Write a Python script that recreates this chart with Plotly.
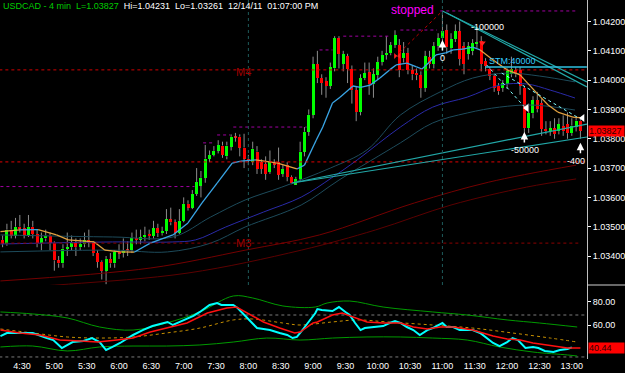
import plotly.graph_objects as go
import pandas as pd

DAY = "2011-12-14 "

# ---------------- candles (4-min bars) ----------------
opens = [1.03455,1.03440,1.03490,1.03470,1.03500,1.03495,1.03470,1.03500,1.03475,1.03445,
         1.03460,1.03470,1.03445,1.03385,1.03375,1.03425,1.03430,1.03445,1.03430,1.03440,
         1.03455,1.03445,1.03410,1.03380,1.03350,1.03390,1.03375,1.03415,1.03410,1.03420,
         1.03420,1.03460,1.03455,1.03465,1.03475,1.03468,1.03495,1.03478,1.03485,1.03525,
         1.03515,1.03480,1.03520,1.03578,1.03565,1.03612,1.03640,1.03667,1.03732,1.03745,
         1.03759,1.03777,1.03740,1.03773,1.03807,1.03807,1.03770,1.03730,1.03721,1.03756,
         1.03721,1.03714,1.03687,1.03717,1.03721,1.03680,1.03711,1.03670,1.03643,1.03663,
         1.03756,1.03824,1.03882,1.04055,1.04007,1.03997,1.03980,1.04040,1.04143,1.04055,
         1.04082,1.04038,1.03966,1.03891,1.04007,1.04027,1.03986,1.04017,1.04062,1.04086,
         1.04092,1.04120,1.04120,1.04075,1.04092,1.04034,1.04024,1.04017,1.03973,1.04079,
         1.04055,1.04116,1.04143,1.04170,1.04109,1.04140,1.04167,1.04116,1.04089,1.04099,
         1.04126,1.04133,1.04065,1.04038,1.04014,1.03980,1.03973,1.03986,1.04020,1.04034,
         1.04034,1.03973,1.03836,1.03887,1.03932,1.03922,1.03833,1.03826,1.03836,1.03826,
         1.03843,1.03850,1.03819,1.03840,1.03862]
highs = [1.03470,1.03510,1.03520,1.03530,1.03540,1.03510,1.03540,1.03520,1.03490,1.03480,
         1.03490,1.03480,1.03450,1.03400,1.03440,1.03480,1.03470,1.03460,1.03460,1.03480,
         1.03490,1.03450,1.03420,1.03385,1.03400,1.03410,1.03420,1.03440,1.03460,1.03450,
         1.03480,1.03490,1.03490,1.03500,1.03490,1.03520,1.03510,1.03500,1.03560,1.03565,
         1.03525,1.03560,1.03600,1.03590,1.03625,1.03700,1.03690,1.03779,1.03760,1.03775,
         1.03795,1.03790,1.03790,1.03815,1.03820,1.03815,1.03817,1.03745,1.03790,1.03775,
         1.03730,1.03740,1.03760,1.03730,1.03770,1.03710,1.03720,1.03675,1.03670,1.03790,
         1.03840,1.03900,1.04080,1.04100,1.04020,1.04010,1.04060,1.04150,1.04150,1.04100,
         1.04090,1.04050,1.03980,1.04020,1.04060,1.04060,1.04040,1.04080,1.04100,1.04150,
         1.04130,1.04170,1.04140,1.04130,1.04110,1.04050,1.04040,1.04030,1.04100,1.04100,
         1.04130,1.04160,1.04231,1.04190,1.04160,1.04190,1.04200,1.04130,1.04130,1.04140,
         1.04180,1.04150,1.04075,1.04045,1.04020,1.03990,1.04000,1.04040,1.04080,1.04045,
         1.04045,1.03980,1.03920,1.03945,1.03960,1.03935,1.03860,1.03860,1.03870,1.03870,
         1.03880,1.03890,1.03870,1.03875,1.03870]
lows = [1.03430,1.03435,1.03460,1.03460,1.03480,1.03460,1.03465,1.03460,1.03430,1.03420,
        1.03450,1.03420,1.03350,1.03360,1.03360,1.03400,1.03420,1.03400,1.03420,1.03430,
        1.03430,1.03400,1.03360,1.03320,1.03304,1.03360,1.03360,1.03390,1.03395,1.03400,
        1.03410,1.03440,1.03440,1.03450,1.03455,1.03460,1.03465,1.03470,1.03475,1.03505,
        1.03460,1.03475,1.03515,1.03555,1.03560,1.03605,1.03600,1.03650,1.03720,1.03740,
        1.03750,1.03735,1.03730,1.03760,1.03790,1.03740,1.03700,1.03710,1.03710,1.03680,
        1.03680,1.03660,1.03680,1.03700,1.03660,1.03670,1.03655,1.03645,1.03648,1.03655,
        1.03740,1.03810,1.03870,1.03990,1.03950,1.03940,1.03970,1.04030,1.04040,1.04030,
        1.03990,1.03920,1.03860,1.03880,1.04000,1.03950,1.03940,1.04000,1.04050,1.04070,
        1.04085,1.04110,1.04010,1.04060,1.04020,1.04000,1.04000,1.03940,1.03960,1.04040,
        1.04040,1.04100,1.04130,1.04090,1.04090,1.04130,1.04050,1.04020,1.04070,1.04085,
        1.04110,1.04030,1.04030,1.04000,1.03960,1.03950,1.03960,1.03970,1.04010,1.04010,
        1.03950,1.03800,1.03820,1.03870,1.03890,1.03810,1.03815,1.03810,1.03800,1.03815,
        1.03810,1.03800,1.03810,1.03825,1.03800]
closes = [1.03440,1.03490,1.03470,1.03500,1.03495,1.03470,1.03500,1.03475,1.03445,1.03460,
          1.03470,1.03445,1.03385,1.03375,1.03425,1.03430,1.03445,1.03430,1.03440,1.03455,
          1.03445,1.03410,1.03380,1.03350,1.03390,1.03375,1.03415,1.03410,1.03420,1.03418,
          1.03460,1.03455,1.03465,1.03472,1.03468,1.03495,1.03478,1.03485,1.03525,1.03515,
          1.03480,1.03520,1.03578,1.03565,1.03612,1.03653,1.03667,1.03732,1.03745,1.03759,
          1.03779,1.03745,1.03777,1.03807,1.03805,1.03770,1.03732,1.03725,1.03766,1.03697,
          1.03697,1.03680,1.03721,1.03712,1.03677,1.03697,1.03670,1.03650,1.03663,1.03756,
          1.03824,1.03882,1.04055,1.04007,1.03990,1.03980,1.04045,1.04143,1.04089,1.04089,
          1.04038,1.03966,1.03891,1.04007,1.04024,1.03986,1.04020,1.04062,1.04086,1.04092,
          1.04120,1.04154,1.04034,1.04092,1.04034,1.04020,1.04017,1.03973,1.04082,1.04055,
          1.04116,1.04143,1.04167,1.04112,1.04140,1.04167,1.04072,1.04055,1.04116,1.04126,
          1.04130,1.04055,1.04048,1.04014,1.03973,1.03962,1.03990,1.04031,1.04038,1.04020,
          1.03980,1.03836,1.03887,1.03932,1.03901,1.03833,1.03826,1.03836,1.03816,1.03850,
          1.03826,1.03819,1.03845,1.03862,1.03827]
first_bar = "04:12"

# ---------------- main-panel moving averages ----------------
fast_t = ["04:10","04:28","04:45","05:02","05:13","05:37","05:47","06:01","06:14","06:29",
          "06:50","07:04","07:17","07:31","07:45","07:53","08:07","08:27","08:45","08:52",
          "09:03","09:09","09:18","09:25","09:37","09:44","09:53","10:02","10:11","10:17",
          "10:27","10:36","10:41","10:48","10:54","11:03","11:10","11:19","11:28","11:35",
          "11:47","12:00","12:12","12:19","12:31","12:38","12:47","13:01","13:10"]
fast_v = [1.03483,1.03489,1.03490,1.03472,1.03455,1.03448,1.03420,1.03414,1.03413,1.03444,
          1.03472,1.03513,1.03581,1.03649,1.03717,1.03724,1.03728,1.03717,1.03697,1.03710,
          1.03796,1.03840,1.03922,1.03942,1.03980,1.03975,1.03983,1.04007,1.04035,1.04052,
          1.04058,1.04045,1.04038,1.04062,1.04086,1.04093,1.04103,1.04106,1.04113,1.04103,
          1.04069,1.04035,1.04018,1.03990,1.03942,1.03915,1.03891,1.03874,1.03871]
# periods in which the fast average is drawn orange (falling state)
fast_orange = [("04:10","04:28"),("04:45","06:14"),("08:07","08:45"),("11:35","13:10")]
navy_t = ["04:10","05:54","06:50","07:11","07:39","08:14","08:49","09:17","09:41","10:21",
          "10:51","11:23","11:53","12:18","12:40","13:03"]
navy_v = [1.03441,1.03448,1.03448,1.03455,1.03499,1.03550,1.03601,1.03666,1.03728,1.03840,
          1.03908,1.03942,1.03983,1.03987,1.03966,1.03939]
tealu_t = ["04:10","05:54","06:50","07:25","07:57","08:31","09:16","09:50","10:21","10:58",
           "11:28","12:00","12:30","13:03"]
tealu_v = [1.03472,1.03465,1.03465,1.03533,1.03591,1.03635,1.03700,1.03762,1.03881,1.03960,
           1.04007,1.04024,1.04014,1.03994]
teall_t = ["04:10","05:54","06:45","07:25","07:57","08:49","09:24","10:21","10:51","11:23",
           "11:53","12:24","13:03"]
teall_v = [1.03414,1.03420,1.03414,1.03444,1.03499,1.03574,1.03659,1.03786,1.03854,1.03888,
           1.03908,1.03915,1.03898]
red1_t = ["04:10","06:29","07:57","09:06","10:34","11:43","13:04"]
red1_v = [1.03315,1.03359,1.03420,1.03472,1.03581,1.03652,1.03710]
red2_t = ["04:10","05:13","07:04","08:49","09:58","11:08","12:18","13:04"]
red2_v = [1.03290,1.03304,1.03342,1.03420,1.03489,1.03574,1.03635,1.03663]

# ---------------- levels / drawn lines ----------------
purple_steps = [("04:10","07:10",1.03637),("07:18","07:29",1.03786),("07:31","07:43",1.03813),
                ("07:46","08:54",1.03840),("09:06","09:18",1.04103),("09:28","10:11",1.04150),
                ("10:21","10:55",1.04171),("10:58","13:05",1.04236)]
red_levels = [("04:09","13:15",1.04035,"#d00000"),("04:09","13:15",1.03721,"#e00000"),
              ("04:09","13:06",1.03444,"#8B0000")]
trend_lines = [("08:40:30",1.03649,"13:14",1.03850),("08:40:30",1.03649,"13:14",1.03806),
               ("11:00",1.04236,"13:14",1.03994),("11:04",1.04229,"13:14",1.03977)]
dotted_cyan = [("11:41",1.04052,"12:17",1.03905),("11:55",1.04024,"13:05",1.03874)]
stop_line = ("10:16",1.04079,"11:00",1.04236)
stm_line = ("11:40","13:14",1.04045)
sessions = ["08:00","11:00"]
labels = [("stopped","10:32",1.04241,"#FF00FF",12,"center"),
          ("-100000","11:25",1.04183,"#FFFFFF",9,"left"),
          ("0","11:00",1.04074,"#FFFFFF",9,"center"),
          ("STM:40000","11:41",1.04067,"#33CCFF",9,"left"),
          ("-50000","12:02",1.03762,"#FFFFFF",9,"left"),
          ("-400","12:54",1.03724,"#FFFFFF",9,"left"),
          ("M4","07:47",1.04028,"#A00000",11,"left"),
          ("M3","07:47",1.03444,"#A00000",11,"left")]
up_arrows = [("11:00",1.04137),("12:16",1.03823),("13:08",1.03786)]
left_tris = [("12:18",1.03905),("13:10",1.03871)]
red_marks = [("10:18",1.04082,"bowtie"),("11:37",1.04127,"triangle-down")]

# ---------------- lower panel ----------------
cyan_t = ["04:10","04:16","04:28","04:40","04:53","04:59","05:07","05:17","05:27","05:35",
          "05:42","05:48","05:54","06:01","06:13","06:22","06:31","06:41","06:45","06:50",
          "06:57","07:03","07:09","07:15","07:24","07:31","07:35","07:46","07:50","07:59",
          "08:08","08:14","08:20","08:29","08:36","08:41","08:45","08:48","08:54","08:57",
          "09:02","09:04","09:08","09:18","09:24","09:30","09:34","09:39","09:44","09:48",
          "09:59","10:05","10:11","10:16","10:21","10:27","10:33","10:39","10:46","10:51",
          "11:00","11:04","11:10","11:16","11:23","11:28","11:35","11:41","11:47","11:53",
          "12:00","12:05","12:10","12:17","12:24","12:29","12:35","12:43","12:49","12:56",
          "13:00"]
cyan_v = [50.6,53.2,53.2,53.2,48.9,47.2,40.4,45.5,46.4,48.9,
          45.5,38.7,41.3,44.7,51.5,55.7,59.1,61.7,62.6,60.0,
          62.6,65.1,67.7,71.1,77.0,78.7,77.0,77.0,74.5,66.0,
          57.4,56.6,55.7,53.2,51.5,48.9,49.8,53.2,60.0,63.5,
          70.0,73.6,72.8,71.9,75.3,71.1,68.5,61.7,55.7,57.4,
          58.3,59.1,61.7,63.4,61.7,58.3,55.7,51.5,55.7,57.4,
          61.7,58.3,58.3,55.7,55.7,55.7,53.2,48.9,44.7,42.1,
          45.5,48.9,47.2,40.4,41.3,40.4,37.9,37.0,38.7,39.6,
          41.0]
osc_t = ["04:10","04:28","04:47","05:05","05:24","05:40","05:58","06:13","06:29","06:44",
         "07:03","07:22","07:40","07:49","07:59","08:14","08:29","08:43","08:48","09:00",
         "09:04","09:18","09:27","09:37","09:50","10:05","10:21","10:33","10:46","10:58",
         "11:10","11:28","11:47","12:00","12:12","12:24","12:43","12:56","13:08"]
osc_v = [55.7,53.2,51.5,47.2,46.4,45.5,47.2,48.9,54.0,57.4,
         61.7,70.2,74.5,75.3,70.2,62.6,57.4,53.2,54.0,61.7,
         62.6,68.5,70.2,66.8,62.6,61.7,61.7,58.3,56.6,58.3,
         58.3,55.7,50.6,48.1,47.2,44.7,42.1,40.4,40.44]
sig_t = ["04:10","04:40","05:12","05:42","06:13","06:44","07:15","07:46","08:04","08:32",
         "08:48","09:18","09:41","10:09","10:51","11:28","12:05","12:40","13:05"]
sig_v = [56.6,53.2,49.8,48.9,49.8,53.2,57.4,64.3,65.1,61.7,60.0,62.6,64.3,62.6,60.0,57.4,53.2,48.9,45.5]
bandu_t = ["04:10","04:40","05:12","05:42","06:13","06:44","07:15","07:46","08:04","08:32",
           "09:02","09:13","09:34","10:05","10:51","11:23","12:00","12:30","13:05"]
bandu_v = [71.1,69.4,66.0,58.3,55.7,61.7,71.1,84.7,83.0,76.2,75.3,78.7,80.4,75.3,71.1,68.5,64.3,61.7,58.3]
bandl_t = ["04:10","04:40","05:12","05:42","06:13","06:44","07:15","07:46","08:17","08:48",
           "09:18","09:50","10:21","10:51","11:23","11:53","12:24","12:56","13:05"]
bandl_v = [41.3,42.1,37.9,41.3,42.1,42.1,43.0,45.5,48.9,47.2,48.9,49.8,49.8,48.9,47.2,41.3,37.0,34.5,33.6]
osc_levels = [68.5, 32.8]

price_ticks = [1.034, 1.035, 1.036, 1.037, 1.038, 1.039, 1.040, 1.041, 1.042]
osc_ticks = [60, 80]
time_ticks = ["04:30","05:00","05:30","06:00","06:30","07:00","07:30","08:00","08:30","09:00",
              "09:30","10:00","10:30","11:00","11:30","12:00","12:30","13:00"]


def T(s):
    return pd.Timestamp(DAY + s)


def TS(lst):
    return [T(s) for s in lst]


FONT = "Liberation Sans, Arial, sans-serif"
fig = go.Figure()

times = pd.date_range(DAY + first_bar, periods=len(closes), freq="4min")

# wicks (split so they don't cross the bodies)
wx, wy = [], []
for t, o, h, l, c in zip(times, opens, highs, lows, closes):
    top, bot = max(o, c), min(o, c)
    wx += [t, t, None, t, t, None]
    wy += [h, top, None, bot, l, None]
fig.add_trace(go.Scatter(x=wx, y=wy, mode="lines", line=dict(color="#8c8c8c", width=1),
                         hoverinfo="skip"))

bases = [min(o, c) for o, c in zip(opens, closes)]
heights = [max(abs(c - o), 0.00003) for o, c in zip(opens, closes)]
colors = ["#00FF00" if c >= o else "#FF0000" for o, c in zip(opens, closes)]
fig.add_trace(go.Bar(x=times, y=heights, base=bases, marker=dict(color=colors, line=dict(width=0)),
                     width=167000, hoverinfo="skip"))

# slow MAs
for tt, vv, col, w in [(red2_t, red2_v, "#5c0000", 1), (red1_t, red1_v, "#740000", 1),
                       (teall_t, teall_v, "#1d4b5b", 1), (tealu_t, tealu_v, "#1d4b5b", 1),
                       (navy_t, navy_v, "#2a2aa8", 1)]:
    fig.add_trace(go.Scatter(x=TS(tt), y=vv, mode="lines", line=dict(color=col, width=w, shape="spline"),
                             hoverinfo="skip"))

# fast MA, coloured by state
fx = TS(fast_t)
orange_spans = [(T(a), T(b)) for a, b in fast_orange]
ux, uy, dx, dy = [], [], [], []
for i in range(len(fast_v) - 1):
    seg_x = [fx[i], fx[i + 1], None]
    seg_y = [fast_v[i], fast_v[i + 1], None]
    mid = fx[i] + (fx[i + 1] - fx[i]) / 2
    if any(a <= mid <= b for a, b in orange_spans):
        dx += seg_x; dy += seg_y
    else:
        ux += seg_x; uy += seg_y
fig.add_trace(go.Scatter(x=ux, y=uy, mode="lines", line=dict(color="#3aa6e6", width=1.3), hoverinfo="skip"))
fig.add_trace(go.Scatter(x=dx, y=dy, mode="lines", line=dict(color="#e0a040", width=1.3), hoverinfo="skip"))

# levels
for a, b, p, col in red_levels:
    fig.add_trace(go.Scatter(x=[T(a), T(b)], y=[p, p], mode="lines",
                             line=dict(color=col, width=1, dash="dot"), hoverinfo="skip"))
for a, b, p in purple_steps:
    fig.add_trace(go.Scatter(x=[T(a), T(b)], y=[p, p], mode="lines",
                             line=dict(color="#a000a0", width=1, dash="dot"), hoverinfo="skip"))

for a, pa, b, pb in trend_lines:
    fig.add_trace(go.Scatter(x=[T(a), T(b)], y=[pa, pb], mode="lines",
                             line=dict(color="#22a8a8", width=1.2), hoverinfo="skip"))
for a, pa, b, pb in dotted_cyan:
    fig.add_trace(go.Scatter(x=[T(a), T(b)], y=[pa, pb], mode="lines",
                             line=dict(color="#7fffff", width=1, dash="dot"), hoverinfo="skip"))
fig.add_trace(go.Scatter(x=[T(stop_line[0]), T(stop_line[2])], y=[stop_line[1], stop_line[3]], mode="lines",
                         line=dict(color="#c00000", width=1, dash="dot"), hoverinfo="skip"))
fig.add_trace(go.Scatter(x=[T(stm_line[0]), T(stm_line[1])], y=[stm_line[2], stm_line[2]], mode="lines",
                         line=dict(color="#30c0e0", width=1.5), hoverinfo="skip"))

fig.add_trace(go.Scatter(x=[T(t) for t, p in left_tris], y=[p for t, p in left_tris], mode="markers",
                         marker=dict(symbol="triangle-left", color="white", size=7), hoverinfo="skip"))
for t, p, s in red_marks:
    fig.add_trace(go.Scatter(x=[T(t)], y=[p], mode="markers",
                             marker=dict(symbol=s, color="#ff2020", size=6), hoverinfo="skip"))

# lower panel
for lv in osc_levels:
    fig.add_trace(go.Scatter(x=[T("04:09"), T("13:15")], y=[lv, lv], yaxis="y2", mode="lines",
                             line=dict(color="#7a7a7a", width=1, dash="dot"), hoverinfo="skip"))
fig.add_trace(go.Scatter(x=TS(bandu_t), y=bandu_v, yaxis="y2", mode="lines",
                         line=dict(color="#009a00", width=1, shape="spline"), hoverinfo="skip"))
fig.add_trace(go.Scatter(x=TS(bandl_t), y=bandl_v, yaxis="y2", mode="lines",
                         line=dict(color="#009a00", width=1, shape="spline"), hoverinfo="skip"))
fig.add_trace(go.Scatter(x=TS(sig_t), y=sig_v, yaxis="y2", mode="lines",
                         line=dict(color="#c89000", width=1, dash="dot", shape="spline"), hoverinfo="skip"))
fig.add_trace(go.Scatter(x=TS(cyan_t), y=cyan_v, yaxis="y2", mode="lines",
                         line=dict(color="#00ffff", width=2), hoverinfo="skip"))
fig.add_trace(go.Scatter(x=TS(osc_t), y=osc_v, yaxis="y2", mode="lines",
                         line=dict(color="#ff1010", width=1.5), hoverinfo="skip"))

annotations = []
annotations.append(dict(
    xref="paper", yref="paper", x=0, y=1, xanchor="left", yanchor="top", showarrow=False,
    xshift=1, yshift=1,
    text=("<span style='color:#00cc00'>USDCAD - 4 min\u00a0\u00a0L=%.5f</span>"
          "\u00a0\u00a0Hi=1.04231\u00a0\u00a0Lo=1.03261\u00a0\u00a012/14/11\u00a0\u00a001:07:00 PM") % closes[-1],
    font=dict(family=FONT, size=9, color="white")))
for txt, t, p, col, sz, anc in labels:
    annotations.append(dict(x=T(t), y=p, xref="x", yref="y", text=txt, showarrow=False,
                            xanchor=anc, yanchor="middle", font=dict(family=FONT, size=sz, color=col)))
for t, p in up_arrows:
    annotations.append(dict(x=T(t), y=p, xref="x", yref="y", text="", showarrow=True, ax=0, ay=12,
                            arrowhead=2, arrowsize=1, arrowwidth=1.5, arrowcolor="white", standoff=0))
annotations.append(dict(xref="paper", yref="y", x=1, y=closes[-1], xanchor="left", yanchor="middle",
                        xshift=1, text="%.5f" % closes[-1], showarrow=False, bgcolor="#ff0000",
                        width=35, align="left", borderpad=0,
                        font=dict(family=FONT, size=9, color="#300000")))
annotations.append(dict(xref="paper", yref="y2", x=1, y=osc_v[-1], xanchor="left", yanchor="middle",
                        xshift=1, text="%.2f" % osc_v[-1], showarrow=False, bgcolor="#ff0000",
                        width=35, align="left", borderpad=0,
                        font=dict(family=FONT, size=9, color="#300000")))

shapes = []
for s in sessions:
    shapes.append(dict(type="line", xref="x", yref="paper", x0=T(s), x1=T(s), y0=0.2061, y1=1,
                       line=dict(color="#1e5a5a", width=1, dash="dot")))
shapes.append(dict(type="line", xref="paper", yref="paper", x0=1, x1=1.07, y0=0.2061, y1=0.2061,
                   line=dict(color="#d0d0d0", width=1)))

axfont = dict(family=FONT, size=9, color="white")
fig.update_layout(
    width=625, height=373, margin=dict(l=0, r=38, t=0, b=14),
    paper_bgcolor="black", plot_bgcolor="black", showlegend=False,
    annotations=annotations, shapes=shapes, bargap=0,
    xaxis=dict(type="date", range=[T("04:09:36"), T("13:14:06")], anchor="y2",
               tickvals=TS(time_ticks), tickformat="%-H:%M", tickfont=axfont,
               showgrid=False, zeroline=False, showline=False, ticks="", automargin=False),
    yaxis=dict(domain=[0.2061, 1], range=[1.033011, 1.042734], side="right", anchor="x",
               tickvals=price_ticks, ticktext=["%.5f" % v for v in price_ticks], tickfont=axfont,
               ticks="outside", ticklen=3, tickcolor="white", showline=True, linecolor="#c0c0c0",
               showgrid=False, zeroline=False, automargin=False),
    yaxis2=dict(domain=[0, 0.2061], range=[31.06, 94.04], side="right", anchor="x",
                tickvals=osc_ticks, ticktext=["%.2f" % v for v in osc_ticks], tickfont=axfont,
                ticks="outside", ticklen=3, tickcolor="white", showline=True, linecolor="#c0c0c0",
                showgrid=False, zeroline=False, automargin=False),
)

fig.write_html("out.html")
